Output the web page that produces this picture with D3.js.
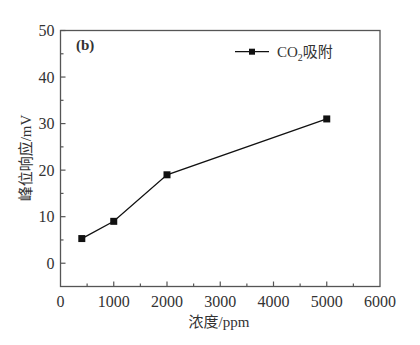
<!DOCTYPE html>
<html><head><meta charset="utf-8">
<script src="https://cdn.jsdelivr.net/npm/d3@7"></script>
<style>body{margin:0;background:#fff}svg{display:block}</style>
</head><body>
<svg id="c" width="420" height="345"></svg>
<script>
const concentrations = [400, 1000, 2000, 5000];
const responses = [5.3, 9.0, 19.0, 31.0];
const xTicks = [0, 1000, 2000, 3000, 4000, 5000, 6000];
const yTicks = [0, 10, 20, 30, 40, 50];
const seriesName = "CO₂吸附";
const panelLabel = "(b)";
const xTitle = "浓度/ppm";
const yTitle = "峰位响应/mV";

const svg = d3.select("#c");
const m = {l: 60.5, t: 30.5, r: 380, b: 286.5};
const x = d3.scaleLinear().domain([0, 6000]).range([m.l, m.r]);
const y = d3.scaleLinear().domain([-5, 50]).range([m.b, m.t]);
const serif = "Liberation Serif, DejaVu Serif, serif";
const cjk = "Noto Sans CJK SC, sans-serif";
const axisCol = "#555";

// frame
svg.append("rect").attr("x", m.l).attr("y", m.t).attr("width", m.r - m.l).attr("height", m.b - m.t)
  .attr("fill", "none").attr("stroke", axisCol).attr("stroke-width", 1.3);

// x ticks
const xMinor = d3.range(500, 6000, 1000);
svg.selectAll(".xt").data(xTicks.slice(1, -1)).join("line")
  .attr("x1", d => x(d)).attr("x2", d => x(d)).attr("y1", m.b).attr("y2", m.b - 5)
  .attr("stroke", axisCol).attr("stroke-width", 1.2);
svg.selectAll(".xm").data(xMinor).join("line")
  .attr("x1", d => x(d)).attr("x2", d => x(d)).attr("y1", m.b).attr("y2", m.b - 3)
  .attr("stroke", axisCol).attr("stroke-width", 1.2);
svg.selectAll(".xl").data(xTicks).join("text")
  .attr("x", d => x(d)).attr("y", m.b + 20).attr("text-anchor", "middle")
  .attr("font-family", serif).attr("font-size", 16).attr("fill", "#333").text(d => d);

// y ticks
const yMinor = d3.range(-5, 50, 10).filter(v => v > -5);
svg.selectAll(".yt").data(yTicks).join("line")
  .attr("x1", m.l).attr("x2", m.l + 5).attr("y1", d => y(d)).attr("y2", d => y(d))
  .attr("stroke", axisCol).attr("stroke-width", 1.2);
svg.selectAll(".ym").data(yMinor).join("line")
  .attr("x1", m.l).attr("x2", m.l + 3).attr("y1", d => y(d)).attr("y2", d => y(d))
  .attr("stroke", axisCol).attr("stroke-width", 1.2);
svg.selectAll(".yl").data(yTicks).join("text")
  .attr("x", m.l - 6).attr("y", d => y(d) + 5.5).attr("text-anchor", "end")
  .attr("font-family", serif).attr("font-size", 16).attr("fill", "#333").text(d => d);

// titles
const xt = svg.append("text").attr("x", 219).attr("y", 327).attr("text-anchor", "middle")
  .attr("font-size", 15).attr("fill", "#333");
xt.append("tspan").attr("font-family", cjk).text("浓度");
xt.append("tspan").attr("font-family", serif).text("/ppm");
const yt = svg.append("text").attr("transform", `translate(31,158) rotate(-90)`).attr("text-anchor", "middle")
  .attr("font-size", 15).attr("fill", "#333");
yt.append("tspan").attr("font-family", cjk).text("峰位响应");
yt.append("tspan").attr("font-family", serif).text("/mV");

svg.append("text").attr("x", 76).attr("y", 50).attr("font-family", serif).attr("font-size", 15)
  .attr("font-weight", "bold").attr("fill", "#333").text(panelLabel);

// line
const pts = concentrations.map((c, i) => [c, responses[i]]);
svg.append("path").attr("d", d3.line().x(d => x(d[0])).y(d => y(d[1]))(pts))
  .attr("fill", "none").attr("stroke", "#111").attr("stroke-width", 1.3);
svg.selectAll(".pt").data(pts).join("rect")
  .attr("x", d => x(d[0]) - 3.5).attr("y", d => y(d[1]) - 3.5).attr("width", 7).attr("height", 7).attr("fill", "#111");

// legend
const ly = 51.7;
svg.append("line").attr("x1", 235).attr("x2", 269).attr("y1", ly).attr("y2", ly).attr("stroke", "#111").attr("stroke-width", 1.3);
svg.append("rect").attr("x", 252 - 3).attr("y", ly - 3).attr("width", 6).attr("height", 6).attr("fill", "#111");
const lt = svg.append("text").attr("x", 277).attr("y", ly + 5).attr("font-size", 15).attr("fill", "#333");
lt.append("tspan").attr("font-family", serif).text("CO");
lt.append("tspan").attr("font-family", serif).attr("font-size", 10).attr("dy", 4).text("2");
lt.append("tspan").attr("font-family", cjk).attr("dy", -4).text("吸附");
</script>
</body></html>
